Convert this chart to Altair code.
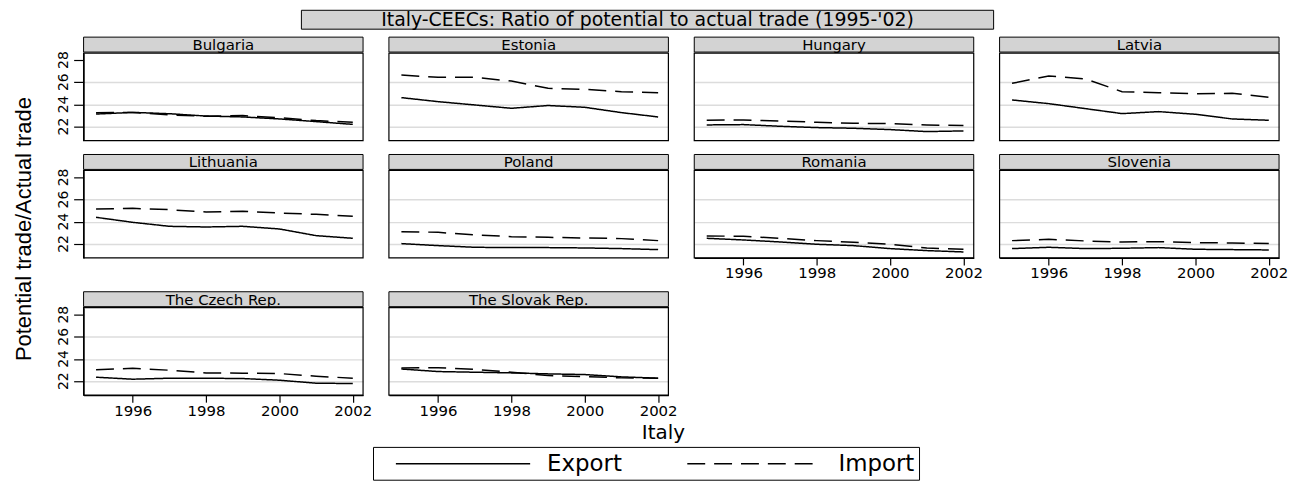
import altair as alt
import pandas as pd

# ---------------- data ----------------
years = [1995, 1996, 1997, 1998, 1999, 2000, 2001, 2002]
countries = ["Bulgaria", "Estonia", "Hungary", "Latvia",
             "Lithuania", "Poland", "Romania", "Slovenia",
             "The Czech Rep.", "The Slovak Rep."]
series_names = ["Export", "Import"]

export_ratio = {
    "Bulgaria":        [23.13, 23.28, 23.16, 22.95, 22.87, 22.69, 22.45, 22.20],
    "Estonia":         [24.61, 24.25, 23.95, 23.65, 23.90, 23.74, 23.26, 22.87],
    "Hungary":         [22.15, 22.18, 22.03, 21.91, 21.85, 21.73, 21.55, 21.61],
    "Latvia":          [24.40, 24.07, 23.62, 23.17, 23.35, 23.11, 22.69, 22.57],
    "Lithuania":       [24.40, 23.95, 23.59, 23.53, 23.59, 23.35, 22.75, 22.51],
    "Poland":          [22.03, 21.85, 21.70, 21.67, 21.67, 21.64, 21.58, 21.49],
    "Romania":         [22.51, 22.36, 22.18, 21.97, 21.85, 21.58, 21.40, 21.28],
    "Slovenia":        [21.58, 21.70, 21.58, 21.61, 21.67, 21.52, 21.49, 21.46],
    "The Czech Rep.":  [22.36, 22.18, 22.27, 22.27, 22.24, 22.09, 21.82, 21.79],
    "The Slovak Rep.": [23.10, 22.87, 22.81, 22.75, 22.66, 22.60, 22.39, 22.27],
}
import_ratio = {
    "Bulgaria":        [23.25, 23.28, 23.05, 22.93, 22.99, 22.80, 22.54, 22.39],
    "Estonia":         [26.65, 26.44, 26.44, 26.10, 25.45, 25.36, 25.15, 25.06],
    "Hungary":         [22.57, 22.60, 22.51, 22.39, 22.30, 22.27, 22.15, 22.09],
    "Latvia":          [25.90, 26.56, 26.29, 25.15, 25.06, 24.97, 25.00, 24.64],
    "Lithuania":       [25.15, 25.21, 25.09, 24.88, 24.94, 24.79, 24.67, 24.49],
    "Poland":          [23.11, 23.05, 22.81, 22.66, 22.60, 22.54, 22.48, 22.30],
    "Romania":         [22.72, 22.69, 22.51, 22.30, 22.15, 21.97, 21.64, 21.52],
    "Slovenia":        [22.30, 22.42, 22.27, 22.18, 22.21, 22.12, 22.09, 22.03],
    "The Czech Rep.":  [23.04, 23.16, 22.99, 22.75, 22.72, 22.69, 22.45, 22.27],
    "The Slovak Rep.": [23.19, 23.22, 23.07, 22.81, 22.51, 22.42, 22.30, 22.27],
}

y_ticks = [22, 24, 26, 28]
y_tick_labels = ["22", "24", "26", "28"]
x_ticks = [1996, 1998, 2000, 2002]
title_text = "Italy-CEECs: Ratio of potential to actual trade (1995-'02)"
y_title_text = "Potential trade/Actual trade"
x_title_text = "Italy"

# ---------------- layout / style ----------------
FONT = "DejaVu Sans"
W = 281          # panel width
HDR = 15         # header strip height
GAP = 1          # gap header -> plot
PH = 88          # plot height
Y_DOMAIN = [20.74, 28.63]
X_DOMAIN = [1994.66, 2002.28]
HDR_FILL = "#d3d3d3"
GRID_COLOR = "#dcdcdc"
bottom_panels = {"Romania", "Slovenia", "The Czech Rep.", "The Slovak Rep."}

one_row = pd.DataFrame({"k": [0]})

legend = alt.Legend(
    orient="none", legendX=291, legendY=412, direction="horizontal", title=None,
    symbolType="M0.5,0H11.75", symbolSize=576, symbolStrokeWidth=1.5,
    symbolStrokeColor="black", symbolFillColor="transparent",
    labelFontSize=23, labelFont=FONT, labelColor="black",
    labelOffset=145, columnPadding=46, padding=4, strokeColor="black",
    fillColor="white",
)

grid_opacity = alt.condition("datum.value == 28", alt.value(0), alt.value(1))


def panel(i, name):
    row, col = divmod(i, 4)
    top = 20 if row == 2 else 0
    plot_top = top + HDR + GAP
    H = plot_top + PH

    df = pd.DataFrame({
        "year": years * 2,
        "ratio": export_ratio[name] + import_ratio[name],
        "series": [series_names[0]] * len(years) + [series_names[1]] * len(years),
    })

    yscale = alt.Scale(domain=Y_DOMAIN, range=[H, plot_top], nice=False, zero=False)
    xscale = alt.Scale(domain=X_DOMAIN, nice=False, zero=False)

    if name in bottom_panels:
        xaxis = alt.Axis(values=x_ticks, format="d", title=None, grid=False,
                         tickSize=7, tickColor="black", tickWidth=1.2,
                         domainColor="black", domainWidth=1.2,
                         labelFontSize=15, labelFont=FONT, labelColor="black",
                         labelPadding=1, labelFlush=False, labelOverlap=False)
    else:
        xaxis = None
    if col == 0:
        yaxis = alt.Axis(values=y_ticks, title=None, grid=True,
                         gridColor=GRID_COLOR, gridWidth=1.5,
                         gridOpacity=grid_opacity, labels=False,
                         tickSize=10, tickColor="black", tickWidth=1.2,
                         domainColor="black", domainWidth=1.2)
    else:
        yaxis = alt.Axis(values=y_ticks, title=None, grid=True,
                         gridColor=GRID_COLOR, gridWidth=1.5,
                         gridOpacity=grid_opacity,
                         labels=False, ticks=False, domain=False)

    lines = alt.Chart(df).mark_line(color="black", strokeWidth=1.5).encode(
        x=alt.X("year:Q", scale=xscale, axis=xaxis),
        y=alt.Y("ratio:Q", scale=yscale, axis=yaxis),
        strokeDash=alt.StrokeDash(
            "series:N",
            scale=alt.Scale(domain=series_names, range=[[1, 0], [18, 9]]),
            legend=legend,
        ),
    )

    frame = alt.Chart(one_row).mark_rect(
        fillOpacity=0, stroke="black", strokeWidth=1.2
    ).encode(x=alt.value(0), x2=alt.value(W),
             y=alt.value(plot_top), y2=alt.value(H))

    hdr_box = alt.Chart(one_row).mark_rect(
        fill=HDR_FILL, stroke="black", strokeWidth=1
    ).encode(x=alt.value(0), x2=alt.value(W),
             y=alt.value(top), y2=alt.value(top + HDR))

    hdr_text = alt.Chart(pd.DataFrame({"country": [name]})).mark_text(
        font=FONT, fontSize=15, color="black", baseline="middle", align="center"
    ).encode(x=alt.value(W / 2), y=alt.value(top + HDR / 2 + 0.5),
             text="country:N")

    layers = [lines, frame, hdr_box, hdr_text]

    if col == 0:
        # vertical tick labels of the y axis, placed through the y scale
        ylab = alt.Chart(pd.DataFrame({"ratio": y_ticks, "lab": y_tick_labels})).mark_text(
            font=FONT, fontSize=14, color="black", angle=270,
            align="center", baseline="bottom"
        ).encode(
            y=alt.Y("ratio:Q", scale=yscale, axis=yaxis),
            x=alt.value(-13),
            text="lab:N",
        )
        layers.append(ylab)

    if i == 0:
        # overall title in a grey box, y-axis title and x-axis title
        t_box = alt.Chart(one_row).mark_rect(
            fill=HDR_FILL, stroke="black", strokeWidth=1
        ).encode(x=alt.value(219), x2=alt.value(915),
                 y=alt.value(-27), y2=alt.value(-8))
        t_text = alt.Chart(pd.DataFrame({"t": [title_text]})).mark_text(
            font=FONT, fontSize=19, color="black", baseline="middle", align="center"
        ).encode(x=alt.value(567), y=alt.value(-17), text="t:N")
        y_t = alt.Chart(pd.DataFrame({"t": [y_title_text]})).mark_text(
            font="Liberation Sans", fontSize=22, color="black", angle=270,
            baseline="middle", align="center"
        ).encode(x=alt.value(-60), y=alt.value(193), text="t:N")
        x_t = alt.Chart(pd.DataFrame({"t": [x_title_text]})).mark_text(
            font=FONT, fontSize=20, color="black", baseline="middle", align="center"
        ).encode(x=alt.value(583), y=alt.value(398), text="t:N")
        layers += [t_box, t_text, y_t, x_t]

    return alt.layer(*layers).properties(width=W, height=H)


panels = [panel(i, c) for i, c in enumerate(countries)]

chart = alt.concat(
    *panels, columns=4, spacing={"row": 14, "column": 26},
    bounds="flush", align="each",
).resolve_scale(strokeDash="shared").resolve_legend(strokeDash="shared").properties(
    padding={"left": 5, "top": 0, "right": 2, "bottom": 0},
    background="white",
).configure_view(strokeWidth=0)

chart.save("out.html", embed_options={"renderer": "svg", "actions": False})
